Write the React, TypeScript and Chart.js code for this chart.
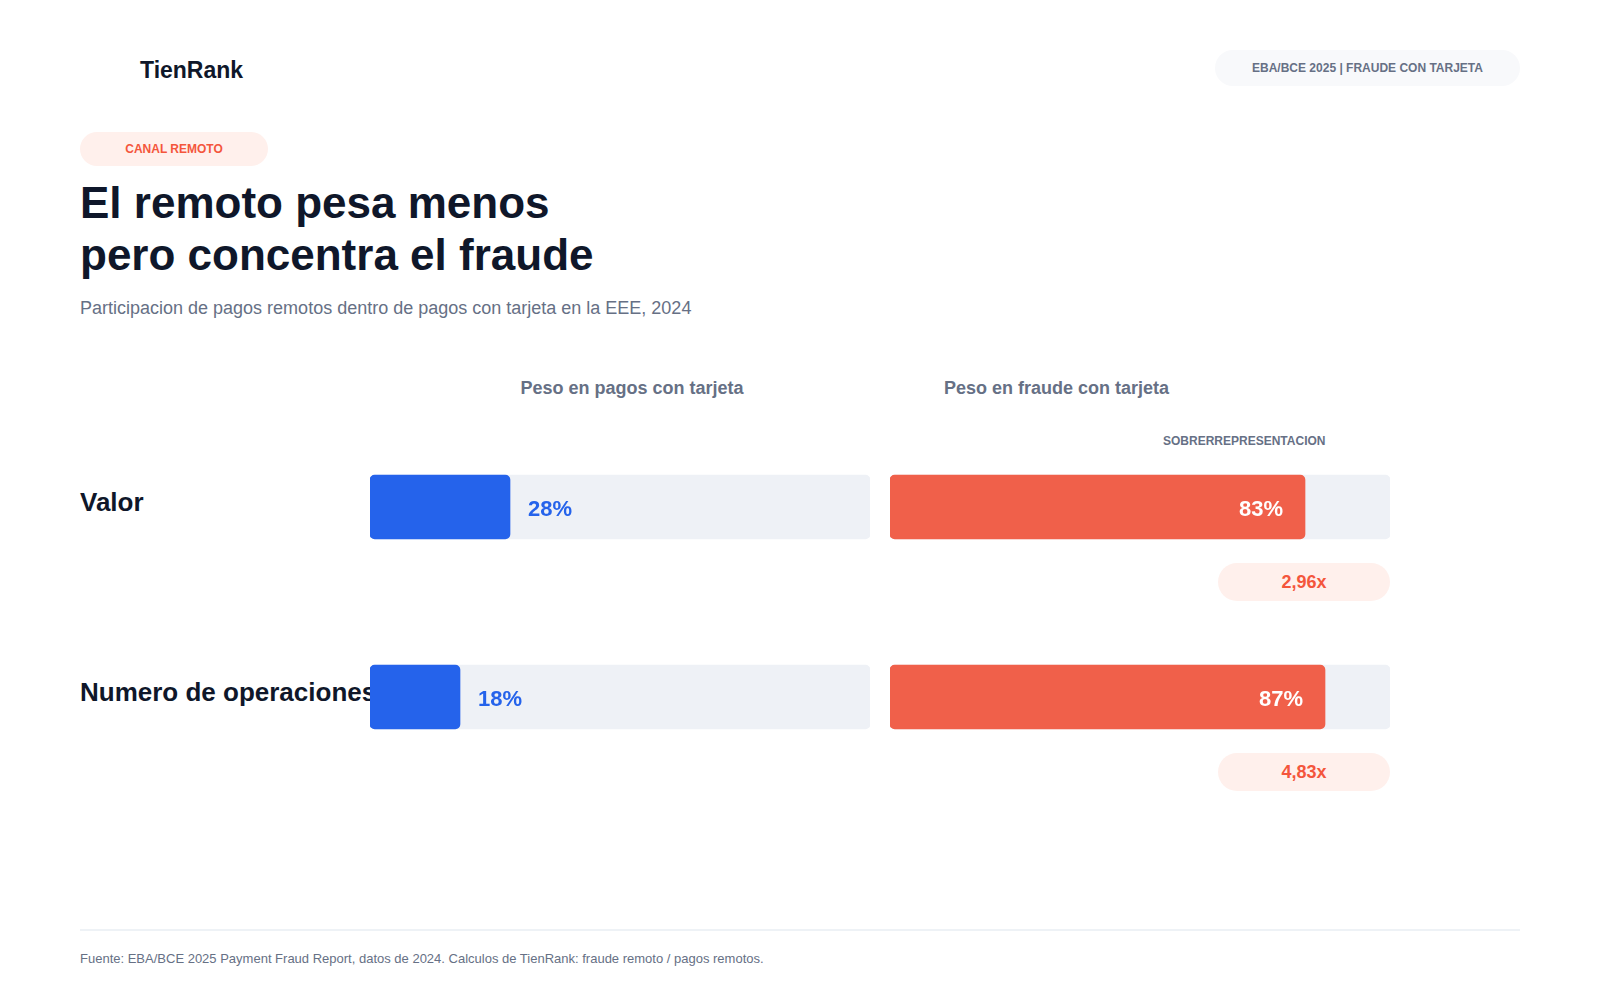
import { Chart, registerables } from "chart.js"
import { useEffect, useRef } from "react"

Chart.register(...registerables)

const FONT = '"Liberation Sans", Arial, sans-serif'
const INK = "#0F172A"
const GREY = "#667085"
const BLUE = "#2563EB"
const RED = "#F0604A"
const RED_TEXT = "#F4563C"
const TRACK = "#EEF1F6"
const BLUSH = "#FFF0EC"

const CATEGORIES = ["Valor", "Numero de operaciones"]
const PAYMENT_SHARE = [28, 18]
const FRAUD_SHARE = [83, 87]
const FULL_TRACK = [100, 100]
const MULTIPLES = ["2,96x", "4,83x"]

const ROW_TOP = 412
const ROW_PITCH = 190

interface ShareBarsProps {
	values: number[]
	color: string
	left: number
	labelInside: boolean
}

function ShareBars({ values, color, left, labelInside }: ShareBarsProps) {
	const canvasRef = useRef<HTMLCanvasElement>(null)

	useEffect(() => {
		if (!canvasRef.current) return

		const chart = new Chart(canvasRef.current, {
			type: "bar",
			data: {
				labels: CATEGORIES,
				datasets: [
					{
						data: values,
						backgroundColor: color,
						order: 1,
						grouped: false,
						barThickness: 64,
						borderRadius: 5,
						borderSkipped: false,
					},
					{
						data: FULL_TRACK,
						backgroundColor: TRACK,
						order: 2,
						grouped: false,
						barThickness: 64,
						borderRadius: 5,
						borderSkipped: false,
					},
				],
			},
			options: {
				indexAxis: "y",
				responsive: false,
				animation: false,
				layout: { padding: 0 },
				plugins: { legend: { display: false }, tooltip: { enabled: false } },
				scales: {
					x: { display: false, min: 0, max: 100 },
					y: { display: false },
				},
			},
			plugins: [
				{
					id: "shareLabels",
					afterDatasetsDraw(c) {
						const ctx = c.ctx
						ctx.save()
						ctx.font = `bold 22px ${FONT}`
						ctx.textBaseline = "middle"
						ctx.fillStyle = labelInside ? "#ffffff" : color
						ctx.textAlign = labelInside ? "right" : "left"
						c.getDatasetMeta(0).data.forEach((bar, i) => {
							const x = bar.x + (labelInside ? -22 : 18)
							ctx.fillText(`${values[i]}%`, x, bar.y + 3)
						})
						ctx.restore()
					},
				},
			],
		})

		return () => {
			chart.destroy()
		}
	}, [values, color, labelInside])

	return (
		<canvas
			ref={canvasRef}
			width={500}
			height={ROW_PITCH * 2}
			style={{ position: "absolute", left, top: ROW_TOP, display: "block" }}
		/>
	)
}

function Text({ children, style }: { children: React.ReactNode; style: React.CSSProperties }) {
	return <div style={{ position: "absolute", whiteSpace: "nowrap", ...style }}>{children}</div>
}

function Pill({ children, style }: { children: React.ReactNode; style: React.CSSProperties }) {
	return (
		<div
			style={{
				position: "absolute",
				display: "flex",
				alignItems: "center",
				justifyContent: "center",
				borderRadius: 20,
				fontWeight: 700,
				...style,
			}}
		>
			{children}
		</div>
	)
}

export default function App() {
	useEffect(() => {
		document.body.style.margin = "0"
		document.body.style.background = "#ffffff"
	}, [])

	return (
		<div
			style={{
				position: "absolute",
				left: 0,
				top: 0,
				width: 1600,
				height: 1000,
				overflow: "hidden",
				background: "#ffffff",
				fontFamily: FONT,
			}}
		>
			<Text style={{ left: 140, top: 56, fontSize: 23, lineHeight: "28px", fontWeight: 700, color: INK }}>
				TienRank
			</Text>
			<Pill
				style={{
					left: 1215,
					top: 50,
					width: 305,
					height: 36,
					background: "#F8F9FB",
					color: GREY,
					fontSize: 12,
				}}
			>
				EBA/BCE 2025 | FRAUDE CON TARJETA
			</Pill>

			<Pill
				style={{
					left: 80,
					top: 132,
					width: 188,
					height: 34,
					background: BLUSH,
					color: RED_TEXT,
					fontSize: 12,
				}}
			>
				CANAL REMOTO
			</Pill>
			<Text style={{ left: 80, top: 177, fontSize: 44, lineHeight: "52px", fontWeight: 700, color: INK }}>
				El remoto pesa menos
				<br />
				pero concentra el fraude
			</Text>
			<Text style={{ left: 80, top: 296, fontSize: 18, lineHeight: "24px", color: GREY }}>
				Participacion de pagos remotos dentro de pagos con tarjeta en la EEE, 2024
			</Text>

			<Text style={{ left: 520.5, top: 376, fontSize: 18, lineHeight: "24px", fontWeight: 700, color: GREY }}>
				Peso en pagos con tarjeta
			</Text>
			<Text style={{ left: 944, top: 376, fontSize: 18, lineHeight: "24px", fontWeight: 700, color: GREY }}>
				Peso en fraude con tarjeta
			</Text>
			<Text style={{ left: 1163, top: 433, fontSize: 12, lineHeight: "16px", fontWeight: 700, color: GREY }}>
				SOBRERREPRESENTACION
			</Text>

			{CATEGORIES.map((name, i) => (
				<Text
					key={name}
					style={{
						left: 80,
						top: 485 + i * ROW_PITCH,
						fontSize: 26,
						lineHeight: "34px",
						fontWeight: 700,
						color: INK,
					}}
				>
					{name}
				</Text>
			))}

			<ShareBars values={PAYMENT_SHARE} color={BLUE} left={370} labelInside={false} />
			<ShareBars values={FRAUD_SHARE} color={RED} left={890} labelInside={true} />

			{MULTIPLES.map((multiple, i) => (
				<Pill
					key={multiple}
					style={{
						left: 1218,
						top: 563 + i * ROW_PITCH,
						width: 172,
						height: 38,
						background: BLUSH,
						color: RED_TEXT,
						fontSize: 18,
					}}
				>
					{multiple}
				</Pill>
			))}

			<div style={{ position: "absolute", left: 80, top: 929, width: 1440, height: 2, background: "#EEF2F6" }} />
			<Text style={{ left: 80, top: 950, fontSize: 13, lineHeight: "18px", color: GREY }}>
				Fuente: EBA/BCE 2025 Payment Fraud Report, datos de 2024. Calculos de TienRank: fraude remoto / pagos remotos.
			</Text>
		</div>
	)
}
